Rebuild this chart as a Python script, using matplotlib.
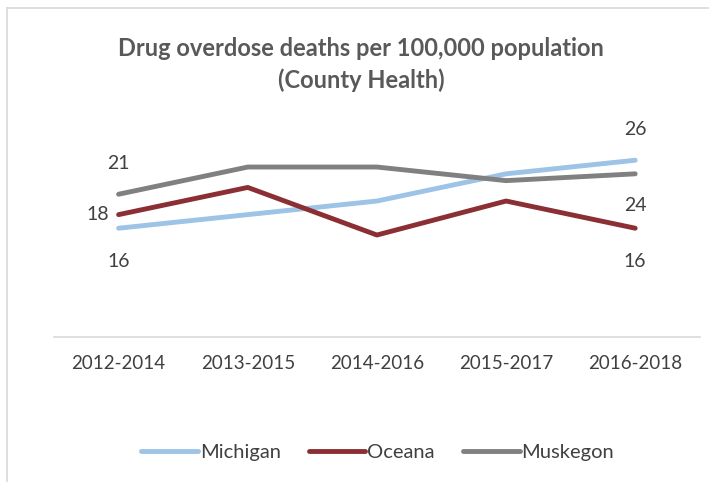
import matplotlib.pyplot as plt
from matplotlib.lines import Line2D

periods = ['2012-2014', '2013-2015', '2014-2016', '2015-2017', '2016-2018']
michigan = [16, 18, 20, 24, 26]
oceana = [18, 22, 15, 20, 16]
muskegon = [21, 25, 25, 23, 24]

plt.rcParams['font.family'] = ['Lato', 'DejaVu Sans']

fig = plt.figure(figsize=(7.09, 4.82), dpi=100)
ax = fig.add_axes([0.0762, 0.3008, 0.9108, 0.4232])

x = range(len(periods))
ax.plot(x, michigan, color='#9DC3E6', lw=3.5, solid_capstyle='round', label='Michigan')
ax.plot(x, oceana, color='#8B2F35', lw=3.5, solid_capstyle='round', label='Oceana')
ax.plot(x, muskegon, color='#808080', lw=3.5, solid_capstyle='round', label='Muskegon')

ax.set_xlim(-0.5, 4.5)
ax.set_ylim(0, 30)
ax.set_yticks([])
for s in ['top', 'right', 'left']:
    ax.spines[s].set_visible(False)
ax.spines['bottom'].set_color('#d9d9d9')
ax.spines['bottom'].set_linewidth(1.2)
ax.set_xticks(list(x))
ax.set_xticklabels(periods, fontsize=13.5, color='#404040')
ax.tick_params(axis='x', length=0, pad=13)

# data labels, placed like the original
lab = dict(fontsize=14, color='#404040', ha='center', va='center', textcoords='offset points')
ax.annotate(str(muskegon[0]), (0, muskegon[0]), xytext=(0, 22), **lab)
ax.annotate(str(oceana[0]), (0, oceana[0]), xytext=(-15, 0), **lab)
ax.annotate(str(michigan[0]), (0, michigan[0]), xytext=(0, -24), **lab)
ax.annotate(str(michigan[4]), (4, michigan[4]), xytext=(0, 22), **lab)
ax.annotate(str(muskegon[4]), (4, muskegon[4]), xytext=(0, -23), **lab)
ax.annotate(str(oceana[4]), (4, oceana[4]), xytext=(0, -24), **lab)

fig.text(0.509, 0.866, 'Drug overdose deaths per 100,000 population\n(County Health)',
         ha='center', va='center', fontsize=17, fontweight='bold', color='#595959',
         linespacing=1.4)

fig.legend(loc='center', bbox_to_anchor=(0.533, 0.062), ncol=3, frameon=False,
           fontsize=14.5, handlelength=2.8, handletextpad=0.1, columnspacing=1.4,
           labelcolor='#404040')

# chart border (cropped on right and bottom)
fig.add_artist(Line2D([0.0099, 1.0], [0.983, 0.983], color='#d9d9d9', lw=1.2))
fig.add_artist(Line2D([0.0099, 0.0099], [0.0, 0.983], color='#d9d9d9', lw=1.2))

fig.savefig('out.png', dpi=100)
